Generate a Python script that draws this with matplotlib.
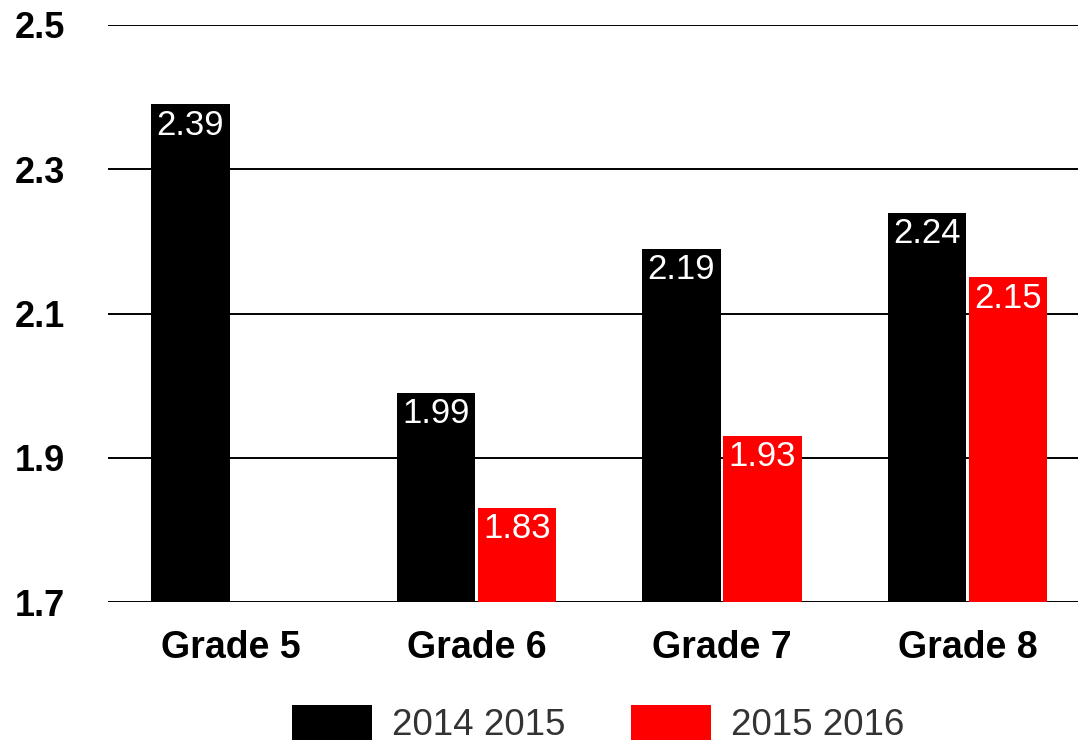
import numpy as np
import matplotlib.pyplot as plt

plt.rcParams['font.family'] = ['Liberation Sans', 'DejaVu Sans']

grades = ["Grade 5", "Grade 6", "Grade 7", "Grade 8"]
vals_2014 = [2.39, 1.99, 2.19, 2.24]
vals_2015 = [np.nan, 1.83, 1.93, 2.15]
series_names = ["2014 2015", "2015 2016"]
yticks = [1.7, 1.9, 2.1, 2.3, 2.5]

W, H = 1078, 743
fig = plt.figure(figsize=(W / 100, H / 100), dpi=100)
ax = fig.add_axes([108 / W, (H - 602) / H, (W - 108) / W, (602 - 25) / H])

x = np.arange(len(grades))
bw = 0.32
off = 0.165

b1 = ax.bar(x - off, vals_2014, bw, color="black", label=series_names[0], zorder=3)
b2 = ax.bar(x + off, vals_2015, bw, color="#ff0000", label=series_names[1], zorder=3)

for bars, vals in ((b1, vals_2014), (b2, vals_2015)):
    for rect, v in zip(bars, vals):
        if np.isnan(v):
            continue
        ax.annotate(f"{v:.2f}", (rect.get_x() + rect.get_width() / 2, v),
                    xytext=(0, -3), textcoords="offset points",
                    ha="center", va="top", color="white", fontsize=25, zorder=4)

ax.set_ylim(1.7, 2.5)
ax.set_xlim(-0.5, 3.45)
ax.set_yticks(yticks)
ax.set_yticklabels([f"{t:.1f}" for t in yticks], fontsize=26, fontweight="bold")
ax.set_xticks(x)
ax.set_xticklabels(grades, fontsize=27, fontweight="bold")
ax.tick_params(axis="y", length=0, pad=31)
ax.tick_params(axis="x", length=0, pad=20)
ax.yaxis.grid(True, color="black", lw=1.4, zorder=1)
ax.set_axisbelow(True)
for s in ax.spines.values():
    s.set_visible(False)

fig.legend(loc="center", bbox_to_anchor=(0.555, 1 - 724 / H), ncol=2, frameon=False,
           fontsize=26.5, handlelength=2.17, handleheight=1.06, handletextpad=0.54,
           columnspacing=1.8, borderpad=0, labelcolor="#333333")

fig.savefig("out.png", dpi=100)
